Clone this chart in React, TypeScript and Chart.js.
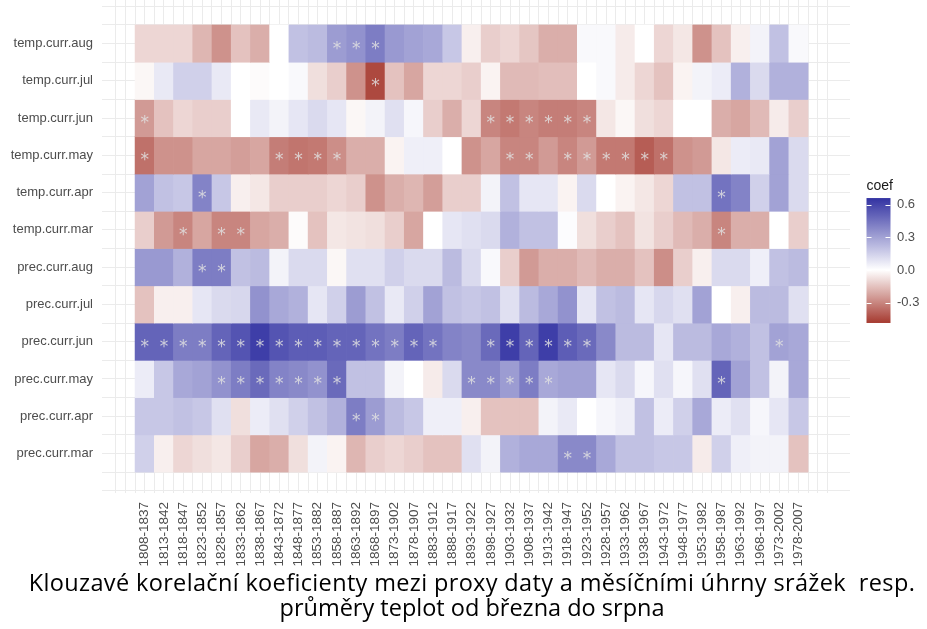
import React, { useEffect, useRef } from 'react';
import { Chart, registerables } from 'chart.js';
Chart.register(...registerables);

// ---------- data ----------
const periods = [
  '1808-1837', '1813-1842', '1818-1847', '1823-1852', '1828-1857', '1833-1862', '1838-1867',
  '1843-1872', '1848-1877', '1853-1882', '1858-1887', '1863-1892', '1868-1897', '1873-1902',
  '1878-1907', '1883-1912', '1888-1917', '1893-1922', '1898-1927', '1903-1932', '1908-1937',
  '1913-1942', '1918-1947', '1923-1952', '1928-1957', '1933-1962', '1938-1967', '1943-1972',
  '1948-1977', '1953-1982', '1958-1987', '1963-1992', '1968-1997', '1973-2002', '1978-2007',
];

// bottom to top
const rowNames = [
  'prec.curr.mar', 'prec.curr.apr', 'prec.curr.may', 'prec.curr.jun', 'prec.curr.jul', 'prec.curr.aug',
  'temp.curr.mar', 'temp.curr.apr', 'temp.curr.may', 'temp.curr.jun', 'temp.curr.jul', 'temp.curr.aug',
];

const precMar = [0.15, -0.04, -0.10, -0.08, -0.06, -0.12, -0.22, -0.20, -0.08, 0.04, -0.03, -0.18, -0.12, -0.10, -0.12, -0.15, -0.15, 0.10, 0.04, 0.25, 0.28, 0.28, 0.38, 0.38, 0.28, 0.20, 0.20, 0.18, 0.18, -0.05, 0.15, 0.05, 0.04, 0.04, -0.15];
const precApr = [0.18, 0.18, 0.20, 0.18, 0.10, -0.08, 0.06, 0.10, 0.15, 0.20, 0.25, 0.42, 0.32, 0.22, 0.18, 0.05, 0.05, -0.04, -0.15, -0.15, -0.15, 0.04, 0.07, 0.00, 0.03, 0.05, 0.20, 0.06, 0.15, 0.28, 0.06, 0.10, 0.03, 0.08, 0.18];
const precMay = [0.06, 0.18, 0.28, 0.30, 0.35, 0.42, 0.48, 0.40, 0.38, 0.35, 0.48, 0.20, 0.20, 0.04, 0.00, -0.05, 0.12, 0.38, 0.38, 0.32, 0.42, 0.28, 0.30, 0.30, 0.08, 0.12, 0.03, 0.10, 0.03, 0.10, 0.50, 0.30, 0.20, 0.04, 0.28];
const precJun = [0.50, 0.50, 0.42, 0.42, 0.50, 0.55, 0.62, 0.55, 0.52, 0.52, 0.50, 0.50, 0.45, 0.42, 0.50, 0.45, 0.40, 0.38, 0.48, 0.62, 0.50, 0.62, 0.52, 0.48, 0.38, 0.22, 0.22, 0.08, 0.22, 0.22, 0.28, 0.25, 0.20, 0.30, 0.28];
const precJul = [-0.15, -0.04, -0.04, 0.08, 0.12, 0.13, 0.35, 0.28, 0.25, 0.08, 0.15, 0.32, 0.20, 0.07, 0.15, 0.30, 0.20, 0.18, 0.20, 0.10, 0.22, 0.28, 0.35, 0.08, 0.20, 0.22, 0.08, 0.13, 0.10, 0.30, 0.00, -0.04, 0.22, 0.22, 0.10];
const precAug = [0.33, 0.33, 0.25, 0.42, 0.42, 0.20, 0.22, 0.04, 0.12, 0.12, -0.02, 0.10, 0.10, 0.15, 0.12, 0.12, 0.22, 0.12, 0.02, -0.12, -0.25, -0.20, -0.20, -0.17, -0.20, -0.20, -0.15, -0.28, -0.12, -0.04, 0.12, 0.12, 0.05, 0.20, 0.22];
const tempMar = [-0.12, -0.25, -0.30, -0.22, -0.30, -0.30, -0.22, -0.20, -0.01, -0.15, -0.06, -0.07, -0.08, -0.12, -0.22, 0.00, 0.08, 0.10, 0.12, 0.25, 0.20, 0.20, 0.01, -0.08, -0.12, -0.15, -0.07, -0.12, -0.17, -0.20, -0.30, -0.20, -0.20, 0.00, -0.12];
const tempApr = [0.30, 0.20, 0.18, 0.40, 0.18, -0.04, -0.06, -0.12, -0.12, -0.12, -0.10, -0.12, -0.27, -0.20, -0.18, -0.24, -0.12, -0.12, 0.04, 0.20, 0.08, 0.08, -0.03, 0.12, 0.00, -0.03, -0.06, -0.10, 0.20, 0.20, 0.45, 0.40, 0.15, 0.30, 0.12];
const tempMay = [-0.35, -0.27, -0.27, -0.22, -0.22, -0.24, -0.22, -0.32, -0.34, -0.33, -0.28, -0.20, -0.20, -0.03, 0.05, 0.05, 0.00, -0.27, -0.22, -0.30, -0.30, -0.25, -0.30, -0.25, -0.33, -0.33, -0.40, -0.35, -0.27, -0.25, -0.06, 0.06, 0.07, 0.30, 0.12];
const tempJun = [-0.25, -0.15, -0.10, -0.12, -0.12, 0.00, 0.07, 0.04, 0.08, 0.12, 0.08, -0.02, 0.04, 0.10, 0.03, -0.12, -0.20, -0.10, -0.30, -0.33, -0.30, -0.32, -0.32, -0.30, -0.06, -0.02, -0.08, -0.10, 0.00, 0.00, -0.20, -0.22, -0.17, -0.05, -0.12];
const tempJul = [-0.02, 0.07, 0.15, 0.15, 0.07, 0.00, -0.01, 0.00, 0.02, -0.08, -0.12, -0.27, -0.45, -0.15, -0.22, -0.10, -0.10, -0.12, -0.03, -0.17, -0.17, -0.16, -0.16, 0.00, 0.02, -0.05, -0.10, -0.15, -0.03, 0.04, 0.06, 0.25, 0.12, 0.25, 0.25];
const tempAug = [-0.10, -0.10, -0.10, -0.18, -0.27, -0.15, -0.20, 0.00, 0.20, 0.22, 0.32, 0.35, 0.42, 0.33, 0.30, 0.28, 0.18, -0.04, -0.12, -0.10, -0.14, -0.20, -0.20, 0.02, 0.02, -0.05, 0.00, -0.10, -0.06, -0.27, -0.15, -0.04, 0.04, 0.20, 0.02];

const rowValues = [precMar, precApr, precMay, precJun, precJul, precAug, tempMar, tempApr, tempMay, tempJun, tempJul, tempAug];

// significant cells (column indices), same row order
const sigPrecMar = [22, 23];
const sigPrecApr = [11, 12];
const sigPrecMay = [4, 5, 6, 7, 8, 9, 10, 17, 18, 19, 20, 21, 30];
const sigPrecJun = [0, 1, 2, 3, 4, 5, 6, 7, 8, 9, 10, 11, 12, 13, 14, 15, 18, 19, 20, 21, 22, 23, 33];
const sigPrecJul: number[] = [];
const sigPrecAug = [3, 4];
const sigTempMar = [2, 4, 5, 30];
const sigTempApr = [3, 30];
const sigTempMay = [0, 7, 8, 9, 10, 19, 20, 22, 23, 24, 25, 26, 27];
const sigTempJun = [0, 18, 19, 20, 21, 22, 23];
const sigTempJul = [12];
const sigTempAug = [10, 11, 12];

const rowSig = [sigPrecMar, sigPrecApr, sigPrecMay, sigPrecJun, sigPrecJul, sigPrecAug, sigTempMar, sigTempApr, sigTempMay, sigTempJun, sigTempJul, sigTempAug];

const legendTicks = [-0.3, 0.0, 0.3, 0.6];
const legendTickLabels = ['-0.3', '0.0', '0.3', '0.6'];

const titleLines = [
  'Klouzavé korelační koeficienty mezi proxy daty a měsíčními úhrny srážek  resp.',
  'průměry teplot od března do srpna',
];

// ---------- colour scale ----------
const LIM_LOW = -0.486;
const LIM_HIGH = 0.66;
const LOW_RGB = [166, 58, 48];
const HIGH_RGB = [50, 50, 162];

function coefColor(v: number): string {
  const end = v < 0 ? LOW_RGB : HIGH_RGB;
  const t = Math.max(0, Math.min(1, v < 0 ? v / LIM_LOW : v / LIM_HIGH));
  const c = end.map((e) => Math.round(255 + (e - 255) * t));
  return `rgb(${c[0]},${c[1]},${c[2]})`;
}

const FONT = '"Liberation Sans", Arial, sans-serif';
const GRID = '#ebebeb';
const AXIS_TEXT = '#4d4d4d';

const sigPlugin = {
  id: 'sigStars',
  afterDatasetsDraw(chart: any) {
    const { ctx, scales } = chart;
    const xs = scales.x;
    const ys = scales.y;
    ctx.save();
    ctx.font = `17px "DejaVu Sans", sans-serif`;
    ctx.fillStyle = 'rgba(225,225,225,0.85)';
    ctx.textAlign = 'center';
    ctx.textBaseline = 'alphabetic';
    rowSig.forEach((cols, r) => {
      cols.forEach((c) => {
        ctx.fillText('*', xs.getPixelForValue(c), ys.getPixelForValue(r) + 10);
      });
    });
    ctx.restore();
  },
};

const legendPlugin = {
  id: 'coefLegend',
  afterDraw(chart: any) {
    const { ctx, chartArea } = chart;
    const x0 = chartArea.right + 16.5;
    const barW = 24;
    const zeroY = 270;
    const unit = 109;
    const yFor = (v: number) => zeroY - v * unit;
    const top = yFor(LIM_HIGH);
    const bottom = yFor(LIM_LOW);
    ctx.save();
    const grad = ctx.createLinearGradient(0, bottom, 0, top);
    const n = 40;
    for (let i = 0; i <= n; i++) {
      const v = LIM_LOW + ((LIM_HIGH - LIM_LOW) * i) / n;
      grad.addColorStop(i / n, coefColor(v));
    }
    ctx.fillStyle = grad;
    ctx.fillRect(x0, top, barW, bottom - top);
    ctx.strokeStyle = '#ffffff';
    ctx.lineWidth = 1;
    legendTicks.forEach((v, i) => {
      const y = Math.round(yFor(v)) + 0.5;
      ctx.beginPath();
      ctx.moveTo(x0, y);
      ctx.lineTo(x0 + 5, y);
      ctx.moveTo(x0 + barW - 5, y);
      ctx.lineTo(x0 + barW, y);
      ctx.stroke();
      ctx.fillStyle = AXIS_TEXT;
      ctx.font = `13px ${FONT}`;
      ctx.textAlign = 'left';
      ctx.textBaseline = 'middle';
      ctx.fillText(legendTickLabels[i], x0 + barW + 6.5, yFor(v));
    });
    ctx.fillStyle = '#1a1a1a';
    ctx.font = `14px ${FONT}`;
    ctx.textAlign = 'left';
    ctx.textBaseline = 'alphabetic';
    ctx.fillText('coef', x0, 190);
    ctx.restore();
  },
};

function halfTicks(from: number, to: number) {
  const out: { value: number }[] = [];
  for (let v = from; v <= to + 1e-9; v += 0.5) out.push({ value: v });
  return out;
}
function intTicks(from: number, to: number) {
  const out: { value: number }[] = [];
  for (let v = from; v <= to; v++) out.push({ value: v });
  return out;
}

export default function App() {
  const ref = useRef<HTMLCanvasElement>(null);

  useEffect(() => {
    if (!ref.current) return;
    const data: any[] = [];
    const colors: string[] = [];
    rowValues.forEach((vals, r) => {
      vals.forEach((v, c) => {
        data.push({ x: c, y: [r - 0.5, r + 0.5] });
        colors.push(coefColor(v));
      });
    });

    const X_MIN = -2.22;
    const X_MAX = 36.68;

    const chart = new Chart(ref.current, {
      type: 'bar',
      data: {
        datasets: [
          {
            label: 'coef',
            data,
            backgroundColor: colors,
            borderWidth: 0,
            barPercentage: 1,
            categoryPercentage: 1,
          } as any,
        ],
      },
      options: {
        animation: false,
        responsive: false,
        devicePixelRatio: 1,
        events: [],
        layout: { padding: { left: 0, right: 77, top: 0, bottom: 0 } },
        plugins: {
          legend: { display: false },
          tooltip: { enabled: false },
          title: { display: false },
        },
        scales: {
          x: {
            type: 'linear',
            min: X_MIN,
            max: X_MAX,
            offset: false,
            afterBuildTicks: (s: any) => {
              s.ticks = intTicks(-1, 35);
            },
            ticks: {
              autoSkip: false,
              minRotation: 90,
              maxRotation: 90,
              padding: 9,
              color: AXIS_TEXT,
              font: { family: FONT, size: 13.5 },
              callback: (v: any) => periods[v as number] ?? '',
            },
            grid: { color: GRID, lineWidth: 1, drawTicks: false },
            border: { display: false },
            afterFit: (s: any) => {
              s.height = 136;
              s.paddingLeft = 0;
              s.paddingRight = 0;
            },
          } as any,
          x2: {
            type: 'linear',
            position: 'top',
            min: X_MIN,
            max: X_MAX,
            offset: false,
            afterBuildTicks: (s: any) => {
              s.ticks = intTicks(0, 35).map((t) => ({ value: t.value - 0.5 }));
            },
            ticks: { display: false },
            grid: { color: GRID, lineWidth: 1, drawTicks: false },
            border: { display: false },
            afterFit: (s: any) => {
              s.height = 0;
              s.paddingLeft = 0;
              s.paddingRight = 0;
            },
          } as any,
          y: {
            type: 'linear',
            min: -1.06,
            max: 12.17,
            afterBuildTicks: (s: any) => {
              s.ticks = halfTicks(-1, 12);
            },
            ticks: {
              autoSkip: false,
              padding: 9,
              color: AXIS_TEXT,
              font: { family: FONT, size: 13 },
              callback: (v: any) => (Number.isInteger(v) ? rowNames[v as number] ?? '' : ''),
            },
            grid: { color: GRID, lineWidth: 1, drawTicks: false },
            border: { display: false },
            afterFit: (s: any) => {
              s.width = 102;
              s.paddingTop = 0;
              s.paddingBottom = 0;
            },
          } as any,
        },
      },
      plugins: [sigPlugin, legendPlugin],
    });
    return () => chart.destroy();
  }, []);

  return (
    <div style={{ position: 'fixed', left: 0, top: 0, width: 927, height: 629, background: '#ffffff', overflow: 'hidden' }}>
      <canvas ref={ref} width={927} height={629} style={{ display: 'block', width: 927, height: 629 }} />
      <div
        style={{
          position: 'absolute',
          left: 0,
          top: 570,
          width: 944,
          textAlign: 'center',
          fontFamily: '"Open Sans", sans-serif',
          fontSize: 23.5,
          lineHeight: '24.5px',
          color: '#000000',
        }}
      >
        <div style={{ whiteSpace: 'pre', letterSpacing: '0.35px' }}>{titleLines[0]}</div>
        <div style={{ whiteSpace: 'pre' }}>{titleLines[1]}</div>
      </div>
    </div>
  );
}
